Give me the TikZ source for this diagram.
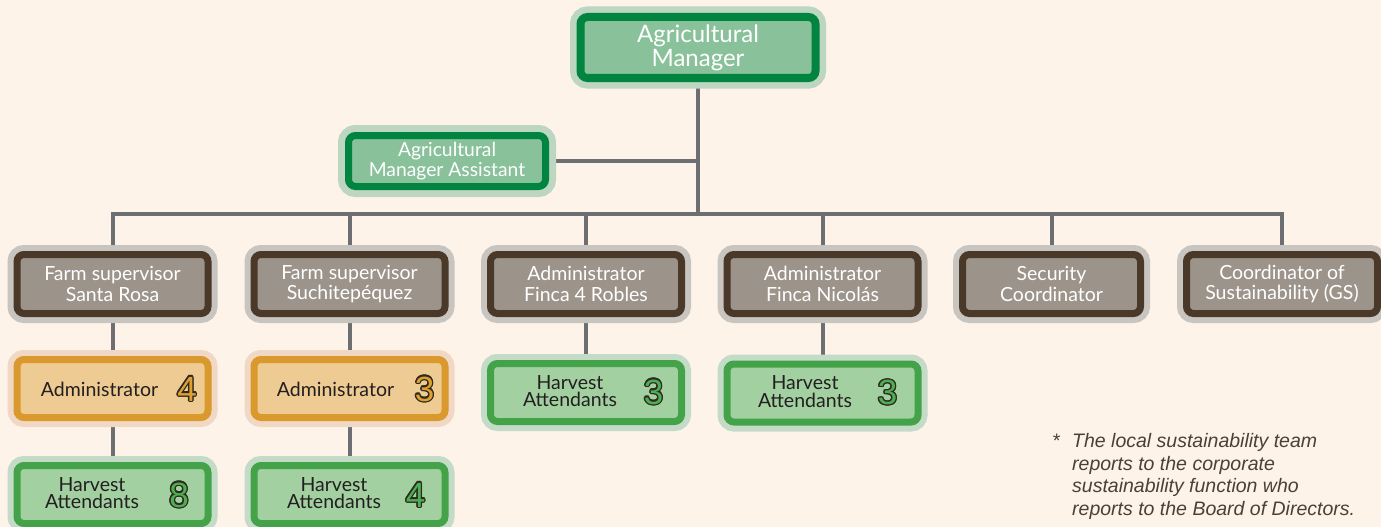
\documentclass[tikz,border=0pt]{standalone}
\usepackage{fontspec}
\setmainfont{Lato}
\newfontfamily\notefont{Liberation Sans}
\newfontfamily\digitfont{Liberation Sans}
\usetikzlibrary{calc}

\definecolor{paperbg}{HTML}{FEF3E9}
\definecolor{wireCol}{HTML}{6D6E71}
% deep green (management)
\definecolor{gDark}{HTML}{00843F}
\definecolor{gFill}{HTML}{89C19B}
\definecolor{gHalo}{HTML}{BCD6C2}
% brown (supervisors / administrators)
\definecolor{bDark}{HTML}{4A3829}
\definecolor{bFill}{HTML}{9C948B}
\definecolor{bHalo}{HTML}{C8C5C1}
% orange (farm administrators)
\definecolor{oDark}{HTML}{D9992C}
\definecolor{oFill}{HTML}{EDCB92}
\definecolor{oHalo}{HTML}{F0D8C5}
% light green (harvest attendants)
\definecolor{lDark}{HTML}{44A349}
\definecolor{lFill}{HTML}{A3D0A1}
\definecolor{lHalo}{HTML}{C4DCC7}
\definecolor{darkText}{HTML}{231F20}
\definecolor{digitEdge}{HTML}{2E2A22}
\definecolor{oDigit}{HTML}{E0A030}
\definecolor{lDigit}{HTML}{4CAF50}
\definecolor{noteCol}{HTML}{4B4036}

\pgfdeclarelayer{paper}
\pgfdeclarelayer{wires}
\pgfsetlayers{paper,wires,main}

\tikzset{
  orgbox/.style={rectangle, rounded corners=7pt, inner sep=0pt, align=center,
    line width=7pt, minimum width=191pt, minimum height=59pt},
  greenbox/.style={orgbox, draw=gDark, fill=gFill, text=white,
    preaction={draw=gHalo, line width=21pt}},
  brownbox/.style={orgbox, draw=bDark, fill=bFill, text=white,
    font=\fontsize{19.5}{20.5}\selectfont,
    preaction={draw=bHalo, line width=19pt}},
  orangebox/.style={orgbox, draw=oDark, fill=oFill, minimum height=58pt,
    preaction={draw=oHalo, line width=19pt}},
  lightbox/.style={orgbox, draw=lDark, fill=lFill, minimum height=58pt,
    preaction={draw=lHalo, line width=19pt}},
  admintext/.style={anchor=base, inner sep=0pt, text=darkText,
    font=\fontsize{19.5}{22}\selectfont},
  harvesttext/.style={anchor=center, inner sep=0pt, align=center, text=darkText,
    font=\fontsize{19.5}{17.5}\selectfont},
  countdigit/.style={anchor=base, inner sep=0pt,
    font=\digitfont\fontsize{35}{35}\selectfont},
  wire/.style={draw=wireCol, line width=4pt},
  note/.style={inner sep=0pt, text=noteCol,
    font=\notefont\itshape\fontsize{19.5}{22.7}\selectfont},
}

% outlined head-count digit: name, position, fill colour, digit
\newcommand\headcount[4]{%
  \foreach \ang in {0,30,...,330}
    \node[countdigit, text=digitEdge] (#1o\ang) at ($(#2)+(\ang:1.3)$) {#4};
  \node[countdigit, text=#3] (#1) at (#2) {#4};
}

\begin{document}
\begin{tikzpicture}[x=1pt, y=-1pt]
\useasboundingbox (0,0) rectangle (1381,527);
\begin{pgfonlayer}{paper}
  \fill[paperbg] (0,0) rectangle (1381,527);
\end{pgfonlayer}

% management
\node[greenbox, line width=8pt, minimum width=235pt, minimum height=61pt,
      font=\fontsize{24}{24}\selectfont] (mgr) at (698,47.5)
      {Agricultural\\Manager};
\node[greenbox, minimum width=197pt, minimum height=51pt,
      font=\fontsize{19.3}{20}\selectfont] (asst) at (447,161)
      {Agricultural\\Manager Assistant};
\coordinate (bus) at (698,213.5);

% direct reports
\node[brownbox] (sr)  at (112.5,284) {Farm supervisor\\Santa Rosa};
\node[brownbox] (ss)  at (349.5,284) {Farm supervisor\\Suchitepéquez};
\node[brownbox] (fr)  at (586,284)   {Administrator\\Finca 4 Robles};
\node[brownbox] (fn)  at (822.5,284) {Administrator\\Finca Nicolás};
\node[brownbox, minimum width=178pt] (sec) at (1051.5,284) {Security\\Coordinator};
\node[brownbox] (cs)  at (1282,284)  {Coordinator of\\Sustainability (GS)};

% farm administrators
\node[orangebox] (adm1) at (112.5,388.5) {};
\node[admintext] (adm1t) at (99.5,396) {Administrator};
\headcount{adm1n}{187,401}{oDigit}{4}
\node[orangebox] (adm2) at (349.5,388.5) {};
\node[admintext] (adm2t) at (335.5,396) {Administrator};
\headcount{adm2n}{424.5,401}{oDigit}{3}

% harvest attendants
\node[lightbox] (ha1) at (112.5,494.5) {};
\node[harvesttext] (ha1t) at (92,493) {Harvest\\Attendants};
\headcount{ha1n}{179,507}{lDigit}{8}
\node[lightbox] (ha2) at (349.5,494.5) {};
\node[harvesttext] (ha2t) at (334,493) {Harvest\\Attendants};
\headcount{ha2n}{415.5,507}{lDigit}{4}
\node[lightbox] (ha3) at (586,392.5) {};
\node[harvesttext] (ha3t) at (570,391) {Harvest\\Attendants};
\headcount{ha3n}{653.5,404}{lDigit}{3}
\node[lightbox] (ha4) at (822.5,393) {};
\node[harvesttext] (ha4t) at (805,391.5) {Harvest\\Attendants};
\headcount{ha4n}{887.5,404.5}{lDigit}{3}

% connectors
\begin{pgfonlayer}{wires}
  \draw[wire] (mgr) -- (mgr |- bus);
  \draw[wire] (asst) -- (asst -| mgr);
  \draw[wire] (sr) -- (sr |- bus) -- (cs |- bus) -- (cs);
  \foreach \n in {ss,fr,fn,sec} \draw[wire] (\n) -- (\n |- bus);
  \draw[wire] (sr) -- (adm1) -- (ha1);
  \draw[wire] (ss) -- (adm2) -- (ha2);
  \draw[wire] (fr) -- (ha3);
  \draw[wire] (fn) -- (ha4);
\end{pgfonlayer}

% footnote
\node[note, anchor=base west] (star) at (1052,447) {*};
\node[note, anchor=north west, align=left] (noteText) at (1072,433)
  {The local sustainability team\\reports to the corporate\\sustainability function who\\reports to the Board of Directors.};
\end{tikzpicture}
\end{document}
